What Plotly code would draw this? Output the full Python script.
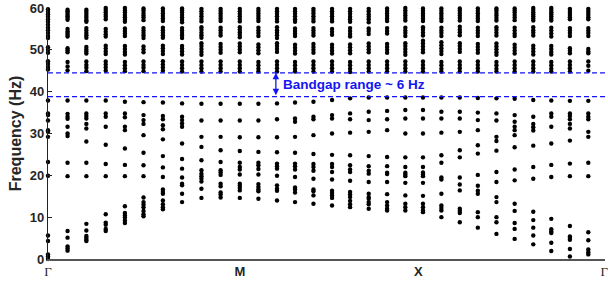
import plotly.graph_objects as go

# wave-vector path coordinate of each computed column (Γ → M → X → Γ)
k_path = [0.00, 1.02, 2.00, 3.01, 4.01, 4.98, 5.99, 6.99, 8.00, 9.00,
          10.00, 10.97, 11.94, 12.88, 13.84, 14.81, 15.75, 16.72, 17.68, 18.63,
          19.55, 20.51, 21.47, 22.41, 23.38, 24.33, 25.30, 26.24, 27.21, 28.17]

# eigenfrequencies below the band gap (Hz), one list per k-point
freq_lower = [
    [37.9, 34.8, 34.4, 33.1, 30.8, 30.4, 29.2, 23.2, 19.9, 5.6, 4.3, 1.1, 0.6, 0.0],
    [37.9, 34.7, 34.0, 33.5, 31.6, 30.0, 29.4, 23.0, 19.8, 6.7, 5.1, 3.0, 2.5, 2.0],
    [37.9, 34.8, 34.2, 33.6, 32.3, 31.2, 28.1, 23.0, 19.8, 8.4, 6.8, 5.5, 5.1, 4.6, 4.3],
    [37.9, 34.8, 34.0, 31.6, 27.3, 22.7, 19.8, 10.7, 8.7, 8.2, 7.2, 6.7],
    [37.6, 34.8, 33.9, 31.6, 30.8, 26.4, 22.5, 19.8, 12.6, 11.0, 10.4, 9.9, 9.2, 8.6],
    [37.5, 34.4, 33.2, 32.3, 29.6, 25.4, 22.4, 19.8, 14.7, 13.6, 13.0, 12.4, 11.5, 10.7, 10.2],
    [37.4, 34.2, 33.4, 32.0, 31.0, 28.6, 24.6, 21.9, 19.6, 16.6, 16.0, 15.6, 14.0, 13.1, 12.4, 11.9],
    [37.2, 34.0, 33.2, 32.4, 31.6, 27.6, 23.9, 21.6, 19.5, 18.0, 17.6, 15.6, 13.6],
    [37.1, 33.1, 29.2, 26.8, 23.6, 21.2, 20.4, 19.8, 19.2, 18.5, 16.8, 14.6],
    [37.1, 33.1, 29.2, 26.0, 23.2, 21.2, 20.7, 20.1, 18.0, 17.4, 15.9, 15.4, 14.7],
    [37.1, 33.1, 29.1, 25.8, 23.0, 22.0, 21.4, 20.2, 18.0, 17.5, 17.0, 16.4, 14.6],
    [37.1, 33.1, 29.1, 25.6, 23.0, 22.4, 21.5, 20.2, 17.9, 17.2, 16.6, 16.2, 14.4],
    [37.2, 33.4, 29.1, 25.5, 22.8, 22.2, 21.6, 19.9, 17.6, 16.8, 16.3, 14.0],
    [37.4, 33.6, 32.8, 29.2, 25.4, 22.8, 22.2, 21.4, 19.6, 17.1, 16.6, 15.9, 13.6],
    [37.6, 34.0, 33.4, 29.6, 25.1, 22.7, 22.0, 21.1, 19.2, 16.6, 16.2, 15.2, 13.2],
    [38.0, 34.4, 33.6, 30.0, 24.9, 22.7, 22.0, 20.8, 19.0, 16.3, 15.8, 15.2, 14.6, 12.8],
    [38.4, 34.8, 33.4, 30.2, 24.8, 22.4, 21.4, 20.8, 18.7, 16.0, 15.4, 14.8, 13.9, 13.1, 12.4],
    [38.6, 35.2, 33.2, 30.4, 24.6, 22.2, 21.1, 20.4, 18.4, 15.6, 14.8, 14.4, 13.6, 13.1, 12.0],
    [38.6, 35.4, 33.4, 30.8, 24.4, 22.2, 20.6, 20.3, 18.4, 15.5, 13.6, 12.8, 12.0, 11.6],
    [38.6, 35.6, 33.6, 30.0, 24.3, 22.0, 20.6, 20.2, 19.8, 18.2, 15.2, 13.2, 12.4, 11.6],
    [38.6, 35.6, 33.6, 30.0, 24.3, 22.0, 20.7, 20.2, 19.8, 18.2, 15.1, 13.2, 12.4, 11.6, 11.2],
    [38.6, 35.2, 33.6, 30.2, 24.8, 23.0, 19.5, 19.0, 15.6, 12.8, 12.2, 11.6, 10.0],
    [38.6, 35.2, 33.6, 30.4, 26.0, 24.3, 19.5, 17.8, 16.4, 12.0, 11.5, 11.0, 8.8],
    [38.5, 35.0, 33.2, 30.8, 27.2, 25.2, 20.1, 17.5, 16.3, 15.6, 11.2, 10.0, 7.5],
    [38.4, 34.8, 33.1, 29.2, 28.2, 25.9, 20.8, 18.4, 14.8, 13.6, 10.0, 8.8, 6.0],
    [38.3, 34.4, 32.8, 31.6, 30.8, 29.6, 26.7, 21.4, 18.8, 13.2, 11.5, 8.6, 7.2, 4.8],
    [38.0, 34.0, 32.3, 31.5, 30.7, 27.1, 22.0, 19.2, 11.3, 9.3, 7.5, 5.6, 3.5],
    [37.9, 34.8, 34.0, 31.6, 27.6, 22.5, 19.6, 9.6, 7.1, 6.6, 6.2, 3.9, 1.9],
    [37.8, 34.8, 34.2, 33.4, 32.3, 31.2, 28.3, 22.8, 19.8, 7.9, 5.4, 5.0, 4.6, 2.4, 0.6],
    [37.8, 34.8, 34.0, 33.4, 30.4, 29.2, 23.0, 19.8, 6.4, 4.5, 2.3, 1.6, 1.1],
]

# eigenfrequencies above the band gap (Hz)
freq_upper = [
    [59.7, 59.1, 58.5, 57.9, 57.3, 56.7, 56.0, 55.3, 54.7, 54.0, 53.3, 52.8, 50.6, 50.0, 49.3, 47.3, 46.6, 45.9, 45.3],
    [59.6, 59.2, 58.8, 58.4, 58.0, 57.6, 57.2, 55.0, 54.4, 54.0, 53.6, 53.2, 50.4, 49.9, 49.4, 47.1, 46.0, 45.1],
    [59.6, 59.1, 58.6, 58.1, 57.6, 57.1, 56.7, 55.2, 54.6, 54.0, 53.5, 52.9, 50.7, 50.1, 49.6, 49.1, 47.2, 46.4, 45.7, 44.9],
    [60.0, 59.5, 59.0, 58.4, 57.9, 57.3, 55.0, 54.3, 53.7, 53.2, 51.0, 50.3, 49.6, 49.0, 47.2, 46.5, 45.8, 45.0],
    [60.0, 59.4, 58.9, 58.3, 57.8, 57.2, 56.7, 55.1, 54.5, 53.9, 53.3, 50.9, 50.2, 49.5, 48.9, 47.1, 46.3, 45.6, 44.9],
    [59.9, 59.4, 58.8, 58.2, 57.7, 57.1, 55.2, 54.6, 54.0, 53.4, 52.8, 50.8, 50.1, 49.4, 47.2, 46.4, 45.7, 44.9],
    [59.9, 59.3, 58.7, 58.1, 57.5, 56.9, 55.3, 54.7, 54.1, 53.5, 52.9, 51.0, 50.4, 49.7, 49.0, 47.3, 46.5, 45.8, 45.0],
    [59.9, 59.4, 58.9, 58.3, 57.8, 57.2, 56.6, 55.2, 54.6, 54.0, 53.4, 52.8, 50.9, 50.3, 49.6, 48.9, 47.2, 46.4, 45.6, 44.8],
    [59.8, 59.2, 58.6, 58.0, 57.4, 56.8, 55.4, 54.8, 54.1, 53.5, 52.9, 51.6, 50.9, 50.2, 49.5, 48.8, 47.2, 46.4, 45.6, 44.8],
    [59.8, 59.3, 58.7, 58.1, 57.5, 56.9, 55.3, 54.7, 54.0, 53.4, 51.4, 50.7, 50.0, 49.3, 47.2, 46.4, 45.6, 44.8],
    [59.8, 59.2, 58.6, 58.0, 57.4, 56.8, 55.4, 54.8, 54.2, 53.6, 53.0, 51.5, 50.8, 50.1, 49.4, 47.2, 46.4, 45.6, 44.8],
    [59.8, 59.3, 58.7, 58.1, 57.5, 56.9, 55.3, 54.6, 54.0, 53.3, 51.3, 50.6, 49.9, 49.2, 47.1, 46.3, 45.5, 44.8],
    [59.8, 59.2, 58.6, 58.0, 57.4, 56.8, 55.4, 54.7, 54.1, 53.5, 52.8, 51.6, 50.9, 50.2, 49.5, 47.2, 46.4, 45.6, 44.8],
    [59.8, 59.2, 58.6, 58.0, 57.3, 56.7, 55.1, 54.5, 53.9, 53.3, 51.2, 50.5, 49.8, 49.1, 47.1, 46.3, 45.5, 44.8],
    [59.8, 59.3, 58.7, 58.0, 57.4, 56.8, 55.2, 54.6, 54.0, 53.4, 51.4, 50.7, 50.0, 49.3, 47.2, 46.4, 45.6, 44.8],
    [59.8, 59.2, 58.6, 58.0, 57.4, 56.8, 55.0, 54.3, 53.6, 51.2, 50.5, 49.8, 49.1, 47.2, 46.4, 45.6, 44.8],
    [59.8, 59.2, 58.6, 57.9, 57.3, 56.7, 55.2, 54.5, 53.8, 53.2, 51.3, 50.6, 49.9, 49.2, 47.1, 46.3, 45.5, 44.7],
    [59.8, 59.2, 58.5, 57.9, 57.3, 56.6, 55.1, 54.5, 53.8, 51.5, 50.8, 50.1, 49.4, 47.2, 46.4, 45.6, 44.8],
    [59.9, 59.3, 58.7, 58.1, 57.5, 56.9, 55.2, 54.5, 53.9, 51.4, 50.7, 50.0, 49.3, 47.2, 46.4, 45.6, 44.8],
    [60.0, 59.4, 58.8, 58.2, 57.6, 57.0, 55.3, 54.6, 54.0, 53.3, 51.6, 50.9, 50.2, 49.5, 48.8, 47.2, 46.4, 45.6, 44.8],
    [59.9, 59.3, 58.7, 58.1, 57.5, 56.9, 55.4, 54.8, 54.1, 53.4, 52.2, 51.5, 50.8, 50.1, 49.4, 47.2, 46.4, 45.6, 44.8],
    [59.9, 59.3, 58.7, 58.1, 57.5, 56.9, 55.3, 54.6, 54.0, 53.3, 51.8, 51.1, 50.4, 49.7, 49.0, 47.1, 46.3, 45.5, 44.8],
    [59.9, 59.4, 58.8, 58.2, 57.6, 57.0, 55.5, 54.8, 54.2, 53.5, 51.6, 50.9, 50.2, 49.5, 47.2, 46.4, 45.6, 44.8],
    [59.9, 59.3, 58.7, 58.1, 57.5, 56.9, 55.3, 54.6, 54.0, 53.3, 51.4, 50.7, 50.0, 49.3, 47.2, 46.4, 45.6, 44.8],
    [59.9, 59.4, 58.8, 58.2, 57.6, 57.0, 55.4, 54.8, 54.1, 53.4, 51.5, 50.8, 50.1, 49.4, 48.8, 47.1, 46.3, 45.5, 44.8],
    [59.9, 59.4, 58.9, 58.3, 57.7, 57.1, 55.3, 54.6, 53.9, 53.3, 51.2, 50.5, 49.8, 49.1, 47.2, 46.4, 45.6, 44.8],
    [60.0, 59.5, 59.0, 58.5, 58.0, 57.5, 57.0, 55.4, 54.7, 54.1, 53.4, 51.0, 50.3, 49.6, 48.9, 47.2, 46.4, 45.6, 44.8],
    [60.0, 59.5, 59.0, 58.5, 58.0, 57.5, 57.0, 55.3, 54.6, 53.9, 53.2, 50.9, 50.2, 49.5, 48.9, 47.1, 46.3, 45.5, 44.8],
    [59.8, 59.3, 58.8, 58.3, 57.8, 57.3, 55.2, 54.6, 54.0, 53.3, 50.4, 49.8, 49.2, 47.2, 46.4, 45.6, 44.8],
    [59.8, 59.3, 58.8, 58.3, 57.8, 57.3, 55.2, 54.6, 54.0, 53.3, 50.2, 49.6, 49.2, 47.2, 46.2, 45.0],
]

tick_vals = [0.0, 10.0, 19.31, 29.0]
tick_labels = ['<span style="font-family:Liberation Serif;font-weight:normal">Γ</span>', '<b>M</b>', '<b>X</b>',
               '<span style="font-family:Liberation Serif;font-weight:normal">Γ</span>']
k_end = 29.04

gap_top = 44.5
gap_bottom = 38.8
gap_label = "Bandgap range ~ 6 Hz"
arrow_k = 11.88
label_k = 12.15

xs, ys = [], []
for k, lo, hi in zip(k_path, freq_lower, freq_upper):
    for f in lo + hi:
        xs.append(k)
        ys.append(f)

fig = go.Figure()
fig.add_trace(go.Scatter(x=xs, y=ys, mode="markers",
                         marker=dict(size=4.4, color="black", line=dict(width=0)),
                         cliponaxis=False, showlegend=False, hoverinfo="skip"))

blue = "#1515f0"
for g in (gap_top, gap_bottom):
    fig.add_shape(type="line", xref="x", yref="y", x0=0, x1=k_end, y0=g, y1=g,
                  line=dict(color=blue, width=1.3, dash="5px,3px"))

fig.add_annotation(x=arrow_k, y=gap_top, ax=arrow_k, ay=gap_bottom,
                   xref="x", yref="y", axref="x", ayref="y", text="",
                   showarrow=True, arrowhead=2, startarrowhead=2, arrowside="end+start",
                   arrowwidth=1.3, arrowsize=1, startarrowsize=1, arrowcolor=blue)
fig.add_annotation(x=label_k, y=(gap_top + gap_bottom) / 2, xref="x", yref="y",
                   text="<b>" + gap_label + "</b>", showarrow=False, xanchor="left",
                   yanchor="middle", font=dict(family="Liberation Sans, Arial", size=13.5, color=blue))

fig.update_layout(
    width=608, height=282,
    margin=dict(l=48, r=0, t=8, b=23),
    paper_bgcolor="white", plot_bgcolor="white",
    font=dict(family="Liberation Sans, Arial", color="#262626"),
    xaxis=dict(range=[0, k_end], tickvals=tick_vals, ticktext=tick_labels,
               showgrid=False, zeroline=False, showline=True, linecolor="#555555",
               linewidth=1.5, ticks="", ticklabeloverflow="allow",
               tickfont=dict(size=13, color="#262626")),
    yaxis=dict(range=[0, 60], tickvals=[0, 10, 20, 30, 40, 50, 60],
               showgrid=False, zeroline=False, showline=True, linecolor="#222222",
               linewidth=1.2, ticks="inside", ticklen=4, tickcolor="#222222",
               tickfont=dict(size=13, color="#262626", weight="bold"),
               title=dict(text="<b>Frequency (Hz)</b>", font=dict(size=16, color="#262626"),
                          standoff=4)),
)

fig.write_html("out.html", config={"displayModeBar": False},
               post_script="document.body.style.margin='0';")
